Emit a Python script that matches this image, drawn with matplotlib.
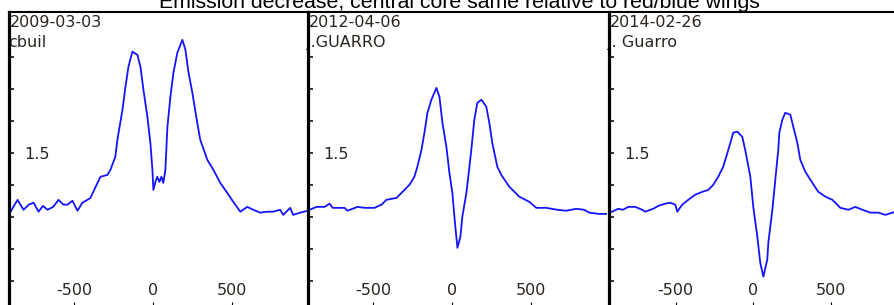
import matplotlib
matplotlib.use("Agg")
import matplotlib.pyplot as plt

plt.rcParams['axes.unicode_minus'] = False

TITLE = "Emission decrease, central core same relative to red/blue wings"

dates = ["2009-03-03", "2012-04-06", "2014-02-26"]
observers = ["cbuil", "J.GUARRO", "J. Guarro"]

# velocity (km/s) and relative flux
vel_2009 = [-915, -905, -861, -823, -790, -759, -728, -700, -671, -635, -601, -570, -544,
            -513, -481, -450, -418, -399, -354, -335, -291, -272, -241, -228, -196, -177,
            -158, -133, -101, -82, -63, -38, -19, -6, 0, 13, 25, 38, 51, 63, 76, 89, 108,
            127, 152, 184, 203, 222, 247, 278, 297, 342, 380, 424, 468, 506, 551, 595, 633,
            677, 722, 759, 804, 823, 867, 886, 930, 981]
flux_2009 = [1.320, 1.316, 1.353, 1.322, 1.338, 1.344, 1.316, 1.334, 1.322, 1.331, 1.353,
             1.338, 1.338, 1.350, 1.319, 1.344, 1.353, 1.359, 1.406, 1.425, 1.431, 1.447,
             1.488, 1.541, 1.634, 1.706, 1.769, 1.816, 1.806, 1.769, 1.697, 1.613, 1.531,
             1.447, 1.384, 1.409, 1.425, 1.409, 1.425, 1.406, 1.447, 1.581, 1.675, 1.750,
             1.813, 1.853, 1.822, 1.753, 1.688, 1.594, 1.541, 1.478, 1.447, 1.406, 1.375,
             1.347, 1.316, 1.331, 1.322, 1.313, 1.316, 1.316, 1.322, 1.306, 1.328, 1.306,
             1.313, 1.319]

vel_2012 = [-918, -905, -861, -810, -778, -759, -684, -665, -601, -557, -494, -449, -418,
            -354, -316, -272, -241, -222, -196, -177, -158, -133, -101, -82, -63, -38, -19,
            0, 13, 25, 32, 51, 63, 89, 108, 120, 139, 158, 184, 215, 234, 253, 285, 310,
            361, 424, 487, 532, 595, 665, 722, 785, 835, 867, 930, 981]
flux_2012 = [1.322, 1.322, 1.331, 1.331, 1.341, 1.328, 1.328, 1.319, 1.331, 1.328, 1.328,
             1.338, 1.353, 1.359, 1.378, 1.400, 1.425, 1.456, 1.509, 1.563, 1.625, 1.666,
             1.703, 1.675, 1.594, 1.519, 1.438, 1.375, 1.300, 1.238, 1.203, 1.238, 1.300,
             1.375, 1.456, 1.509, 1.603, 1.656, 1.666, 1.644, 1.594, 1.531, 1.456, 1.431,
             1.394, 1.363, 1.347, 1.328, 1.328, 1.322, 1.319, 1.325, 1.322, 1.313, 1.309,
             1.309]

vel_2014 = [-930, -910, -871, -840, -806, -761, -716, -697, -645, -613, -568, -536, -503,
            -490, -458, -419, -374, -329, -290, -258, -226, -194, -161, -148, -129, -103,
            -71, -52, -19, 0, 26, 45, 65, 90, 97, 123, 142, 161, 168, 187, 206, 239, 258,
            284, 303, 335, 381, 419, 465, 510, 561, 613, 658, 703, 755, 806, 852, 916, 961]
flux_2014 = [1.313, 1.316, 1.325, 1.322, 1.331, 1.331, 1.322, 1.316, 1.325, 1.334, 1.341,
             1.344, 1.338, 1.316, 1.338, 1.353, 1.369, 1.378, 1.384, 1.400, 1.425, 1.456,
             1.509, 1.531, 1.563, 1.566, 1.550, 1.509, 1.425, 1.331, 1.238, 1.156, 1.113,
             1.166, 1.219, 1.322, 1.416, 1.509, 1.563, 1.603, 1.625, 1.619, 1.581, 1.531,
             1.478, 1.441, 1.406, 1.378, 1.363, 1.353, 1.328, 1.322, 1.331, 1.322, 1.313,
             1.313, 1.306, 1.316, 1.313]

vels = [vel_2009, vel_2012, vel_2014]
fluxes = [flux_2009, flux_2012, flux_2014]

x_ticks = [-500, 0, 500]
y_ticks = [1.1, 1.2, 1.3, 1.4, 1.5, 1.6, 1.7, 1.8]
y_ticklabels = ['', '', '', '', '1.5', '', '', '']

W, H = 895, 305
fig = plt.figure(figsize=(W / 100, H / 100), dpi=100)

# panel placement in pixels: left, width, xlim
panels = [(9, 299, (-915, 980)), (308, 299, (-915, 980)), (609, 294, (-930, 965))]
top_px, height_px = 12, 300.8
txt_col = '#2b2520'

for i, (left, width, xl) in enumerate(panels):
    ax = fig.add_axes([left / W, (H - top_px - height_px) / H, width / W, height_px / H])
    ax.set_facecolor('none')
    ax.plot(vels[i], fluxes[i], color='#1414ff', lw=1.3, zorder=2)
    ax.set_xlim(*xl)
    ax.set_ylim(1.0, 1.94)

    for s in ['right', 'bottom']:
        ax.spines[s].set_visible(False)
    ax.spines['left'].set_linewidth(2.3)
    ax.spines['top'].set_linewidth(1.5)

    ax.set_xticks(x_ticks)
    ax.set_yticks(y_ticks)
    ax.set_yticklabels(y_ticklabels)
    ax.tick_params(axis='x', direction='in', length=8, width=0.8, pad=-21.5,
                   labelsize=11.5, labelcolor=txt_col)
    ax.tick_params(axis='y', direction='in', length=3.6, width=1.1, pad=-29,
                   labelsize=11.5, labelcolor=txt_col)

    ax.annotate(dates[i], xy=(0, 1), xycoords='axes fraction', xytext=(1, -15),
                textcoords='offset pixels', va='baseline', ha='left', fontsize=11.5,
                color=txt_col, zorder=1)
    ax.annotate(observers[i], xy=(0, 1), xycoords='axes fraction', xytext=(-1, -35),
                textcoords='offset pixels', va='baseline', ha='left', fontsize=11.5,
                color=txt_col, zorder=1)

# title, mostly cut off by the top edge
fig.text(459 / W, 1 - 8 / H, TITLE, ha='center', va='baseline',
         fontsize=15.3, family='Liberation Sans', color='black')

fig.savefig('out.png', dpi=100)
